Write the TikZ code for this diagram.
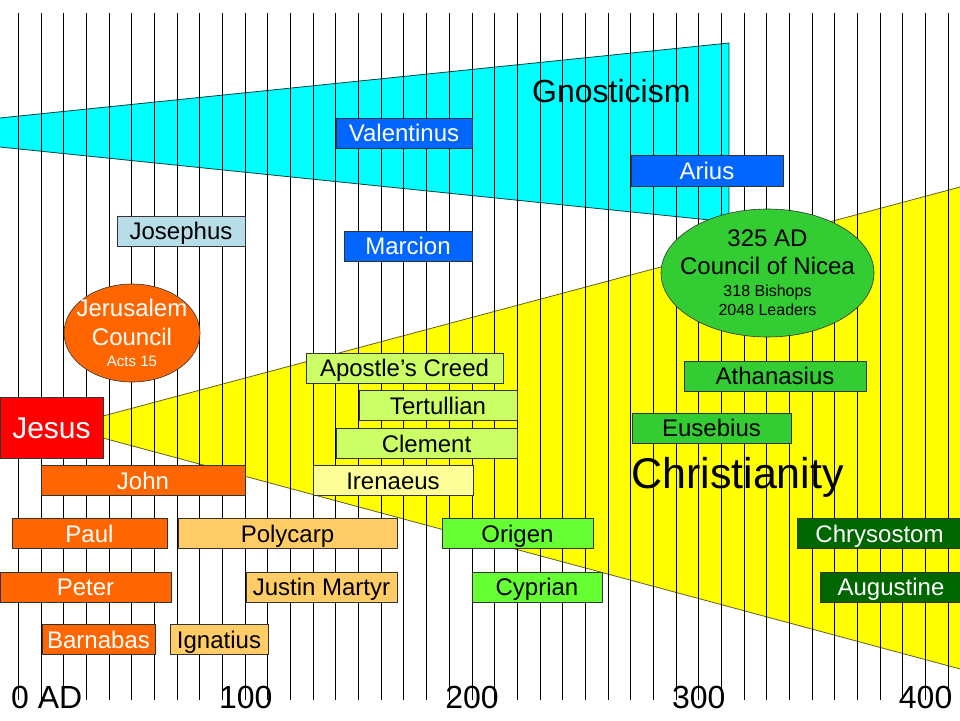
\documentclass[tikz,border=0pt]{standalone}
\usepackage{fontspec}
\setmainfont{Liberation Sans}
\usetikzlibrary{shapes.geometric}
\definecolor{gnosis}{RGB}{0,255,255}
\definecolor{faith}{RGB}{255,255,0}
\definecolor{heretic}{RGB}{0,102,255}
\definecolor{historian}{RGB}{183,221,232}
\definecolor{apostle}{RGB}{255,102,0}
\definecolor{lord}{RGB}{255,0,0}
\definecolor{father}{RGB}{255,204,102}
\definecolor{creed}{RGB}{204,255,102}
\definecolor{bishop}{RGB}{255,255,153}
\definecolor{teacher}{RGB}{102,255,51}
\definecolor{nicea}{RGB}{51,204,51}
\definecolor{doctor}{RGB}{0,102,0}
\begin{document}
\begin{tikzpicture}[x=1pt,y=-1pt,
    bar/.style={draw=black!80, line width=0.6pt, minimum height=30pt, inner sep=0pt,
      font=\fontsize{24}{24}\selectfont, text height=17pt, text depth=0pt},
    council/.style={ellipse, draw=black!80, line width=0.6pt, inner sep=0pt},
    note/.style={align=center, inner sep=0pt, font=\fontsize{24}{29}\selectfont},
    year/.style={anchor=base, inner sep=0pt, font=\fontsize{32}{32}\selectfont},
    title/.style={anchor=base west, inner sep=0pt}]
  \useasboundingbox (0,0) rectangle (960,720);
  \filldraw[fill=gnosis, draw=teal!50!black, line width=0.8pt] (-5,118.5) -- (729,43) -- (729,222) -- (-5,146.5) -- cycle;
  \filldraw[fill=faith, draw=olive!60!black, line width=0.8pt] (103,416) -- (965,185.7) -- (965,670.3) -- (103,438) -- cycle;
  \foreach \i in {0,...,41}
    \draw[line width=0.8pt] (18.3+22.68*\i,12.7) -- (18.3+22.68*\i,700);
  % gnostics
  \node[bar, fill=heretic, text=white, minimum width=136pt] (valentinus) at (404,133) {Valentinus};
  \node[bar, fill=heretic, text=white, minimum width=128pt] (marcion) at (408,246) {Marcion};
  \node[bar, fill=heretic, text=white, minimum width=152pt, minimum height=31pt] (arius) at (707,170.5) {Arius};
  \node[bar, fill=historian, minimum width=128pt] (josephus) at (181,231) {Josephus};
  % apostles
  \node[bar, fill=lord, text=white, minimum width=103pt, minimum height=61pt,
    font=\fontsize{30}{30}\selectfont, text height=21.5pt] (jesus) at (51.5,427.5) {Jesus};
  \node[bar, fill=apostle, text=white, minimum width=204pt] (john) at (143,480.5) {John};
  \node[bar, fill=apostle, text=white, minimum width=155pt] (paul) at (89.5,533.5) {Paul};
  \node[bar, fill=apostle, text=white, minimum width=171pt] (peter) at (85.5,587) {Peter};
  \node[bar, fill=apostle, text=white, minimum width=113pt] (barnabas) at (98.5,639.5) {Barnabas};
  \node[council, fill=apostle, minimum width=136pt, minimum height=98pt] (jerusalem) at (132,333) {};
  \node[note, text=white] (jerusalemtext) at (jerusalem.center)
    {Jerusalem\\Council\\[-8pt]{\fontsize{15}{15}\selectfont Acts 15}};
  % fathers
  \node[bar, fill=father, minimum width=219pt] (polycarp) at (287.5,533.5) {Polycarp};
  \node[bar, fill=father, minimum width=151pt] (justin) at (321.5,587) {Justin Martyr};
  \node[bar, fill=father, minimum width=98pt] (ignatius) at (219,639.5) {Ignatius};
  \node[bar, fill=creed, minimum width=197pt] (creed) at (404.5,368) {Apostle’s Creed};
  \node[bar, fill=creed, minimum width=158pt] (tertullian) at (438,405.5) {Tertullian};
  \node[bar, fill=creed, minimum width=181pt] (clement) at (426.5,443.5) {Clement};
  \node[bar, fill=bishop, minimum width=160pt] (irenaeus) at (393,480.5) {Irenaeus};
  \node[bar, fill=teacher, minimum width=151pt] (origen) at (517.5,533.5) {Origen};
  \node[bar, fill=teacher, minimum width=130pt] (cyprian) at (537,587) {Cyprian};
  % nicea and after
  \node[council, fill=nicea, minimum width=213pt, minimum height=128pt] (nicea) at (767.5,273) {};
  \node[note, font=\fontsize{24}{28}\selectfont] (niceatext) at (nicea.center)
    {325 AD\\Council of Nicea\\[-6pt]{\fontsize{16}{16}\selectfont 318 Bishops}\\[-9pt]{\fontsize{16}{16}\selectfont 2048 Leaders}};
  \node[bar, fill=nicea, minimum width=182pt] (athanasius) at (775,376) {Athanasius};
  \node[bar, fill=nicea, minimum width=159pt] (eusebius) at (711.5,428) {Eusebius};
  \node[bar, fill=doctor, text=white, minimum width=165pt] (chrysostom) at (879.5,533.5) {Chrysostom};
  \node[bar, fill=doctor, text=white, minimum width=142pt] (augustine) at (891,587) {Augustine};
  % titles and years
  \node[title, font=\fontsize{32}{32}\selectfont] (gnosticism) at (532,102) {Gnosticism};
  \node[title, font=\fontsize{43}{43}\selectfont] (christianity) at (631,488) {Christianity};
  \node[year, anchor=base west] (ad0) at (11,708) {0 AD};
  \node[year] (ad100) at (245.7,708) {100};
  \node[year] (ad200) at (472,708) {200};
  \node[year] (ad300) at (698.7,708) {300};
  \node[year] (ad400) at (925.6,708) {400};
\end{tikzpicture}
\end{document}
